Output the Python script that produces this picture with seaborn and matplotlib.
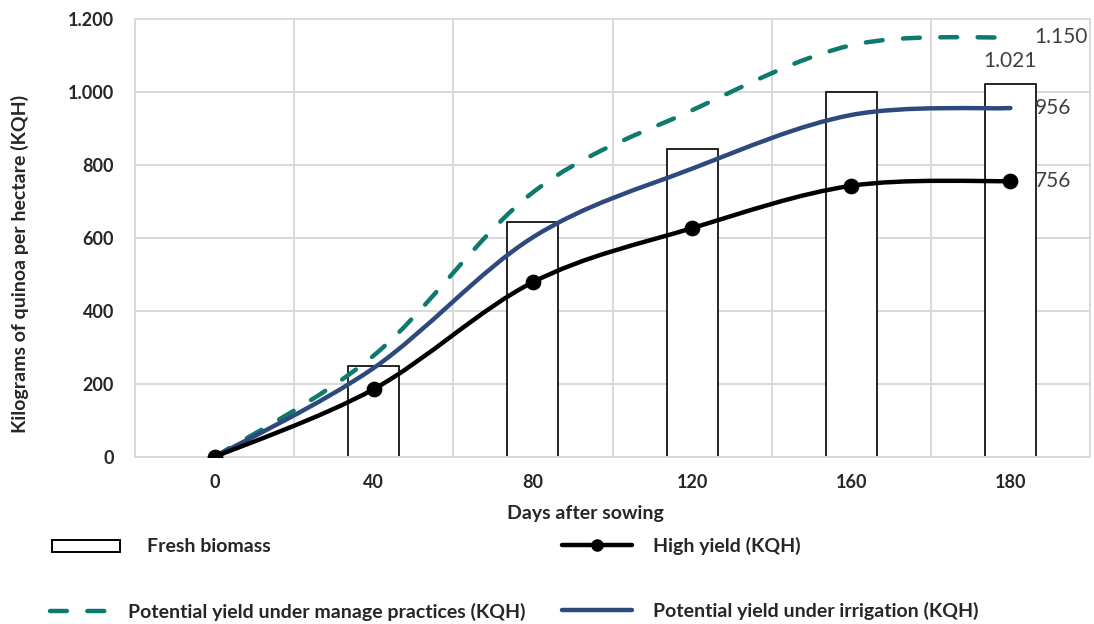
import numpy as np
import matplotlib
matplotlib.use("Agg")
import matplotlib.pyplot as plt
from matplotlib.path import Path
from matplotlib.patches import PathPatch, Patch
from matplotlib.lines import Line2D
import seaborn as sns
import pandas as pd

# ---- data ----
days = ["0", "40", "80", "120", "160", "180"]
fresh_biomass = [0, 250, 645, 845, 1000, 1021]
high_yield = [0, 186, 479, 627, 743, 756]
potential_managed = [0, 278, 725, 950, 1128, 1150]
potential_irrigation = [0, 244, 602, 790, 937, 956]

sns.set_style("white")
plt.rcParams['font.family'] = ['Lato', 'DejaVu Sans']

W, H = 1094, 624
fig = plt.figure(figsize=(W / 100, H / 100), dpi=100)
ax = fig.add_axes([135 / W, 1 - 457 / H, (1090 - 135) / W, (457 - 19) / H])

df = pd.DataFrame({"day": days, "biomass": fresh_biomass})
sns.barplot(data=df, x="day", y="biomass", order=days, color="white",
            edgecolor="black", linewidth=1.2, width=0.32, ax=ax, zorder=2,
            saturation=1)
for p in ax.patches:
    if p.get_height() == 0:
        p.set_visible(False)


def smooth_path(xs, ys, t=1 / 6):
    pts = np.column_stack([xs, ys]).astype(float)
    n = len(pts)
    verts = [pts[0]]
    codes = [Path.MOVETO]
    for i in range(n - 1):
        p0 = pts[i - 1] if i > 0 else pts[i]
        p1 = pts[i]
        p2 = pts[i + 1]
        p3 = pts[i + 2] if i + 2 < n else pts[i + 1]
        c1 = p1 + (p2 - p0) * t
        c2 = p2 - (p3 - p1) * t
        verts += [c1, c2, p2]
        codes += [Path.CURVE4] * 3
    return Path(verts, codes)


xpos = np.arange(len(days))
teal = "#0E7A6E"
blue = "#2E4A7D"
LW = 3.2
DASH = (0, (3.8, 4.6))

pp = PathPatch(smooth_path(xpos, potential_managed), fill=False, edgecolor=teal,
               linewidth=LW, linestyle=DASH, zorder=3)
pp.set_capstyle("round")
ax.add_patch(pp)
ax.add_patch(PathPatch(smooth_path(xpos, potential_irrigation), fill=False,
                       edgecolor=blue, linewidth=LW, zorder=4, capstyle="round"))
ax.add_patch(PathPatch(smooth_path(xpos, high_yield), fill=False,
                       edgecolor="black", linewidth=LW, zorder=5, capstyle="round"))
sns.scatterplot(x=xpos, y=high_yield, color="black", s=110, edgecolor="black",
                ax=ax, zorder=6, legend=False)

# axes styling
ax.set_xlim(-0.5, 5.5)
ax.set_ylim(0, 1200)
yt = np.arange(0, 1201, 200)
ax.set_yticks(yt)
ax.set_yticklabels([f"{v:,.0f}".replace(",", ".") for v in yt],
                   fontweight="bold", fontsize=13)
ax.set_xticks(xpos)
ax.set_xticklabels(days, fontweight="bold", fontsize=13)
ax.set_xticks(np.arange(-0.5, 5.6, 1), minor=True)
ax.grid(axis="y", which="major", color="#d9d9d9", linewidth=1.4, zorder=0)
ax.grid(axis="x", which="minor", color="#d9d9d9", linewidth=1.4, zorder=0)
ax.grid(axis="x", which="major", visible=False)
ax.set_axisbelow(True)
for s in ax.spines.values():
    s.set_color("#d9d9d9")
    s.set_linewidth(1.4)
ax.tick_params(axis="both", which="both", length=0)
ax.tick_params(axis="y", pad=15)
ax.tick_params(axis="x", pad=12)
ax.set_xlabel("Days after sowing", fontweight="bold", fontsize=14)
ax.set_ylabel("Kilograms of quinoa per hectare (KQH)", fontweight="bold", fontsize=14)
ax.xaxis.set_label_coords((585 - 135) / 955, -(514 - 457) / 438)
ax.yaxis.set_label_coords((20 - 135) / 955, (457 - 264) / 438)
ax.xaxis.label.set_va("center")
ax.yaxis.label.set_va("center")

# data labels
lab_col = "#404040"
fmt = lambda v: f"{v:,}".replace(",", ".")
for vals in (potential_managed, potential_irrigation, high_yield):
    ax.annotate(fmt(vals[-1]), (5, vals[-1]), xytext=(17.5, 0),
                textcoords="offset points", ha="left", va="center",
                fontsize=15, color=lab_col)
ax.annotate(fmt(fresh_biomass[-1]), (5, fresh_biomass[-1]), xytext=(0, 17),
            textcoords="offset points", ha="center", va="center",
            fontsize=15, color=lab_col)

# legend (one entry per box, placed like the reference)
FS = 14
fs_px = FS * 100 / 72


def entry(handle, label, x_left, y_center, hlen_px, text_x, hh=0.7):
    fig.legend([handle], [label], loc="center left",
               bbox_to_anchor=(x_left / W, 1 - y_center / H), frameon=False,
               prop={"weight": "bold", "size": FS},
               handlelength=hlen_px / fs_px, handleheight=hh,
               handletextpad=(text_x - x_left - hlen_px) / fs_px,
               borderpad=0, borderaxespad=0)


entry(Patch(facecolor="white", edgecolor="black", linewidth=1.4),
      "Fresh biomass", 52, 547, 68, 147, hh=11 / fs_px)
entry(Line2D([], [], color=teal, linewidth=LW, linestyle=DASH, dash_capstyle="round"),
      "Potential yield under manage practices (KQH)", 50, 612, 57, 128)
entry(Line2D([], [], color="black", linewidth=LW, marker="o", markersize=8,
             solid_capstyle="round"),
      "High yield (KQH)", 562, 546, 70, 653)
entry(Line2D([], [], color=blue, linewidth=LW, solid_capstyle="round"),
      "Potential yield under irrigation (KQH)", 562, 611, 70, 653)

fig.savefig("out.png", dpi=100)
